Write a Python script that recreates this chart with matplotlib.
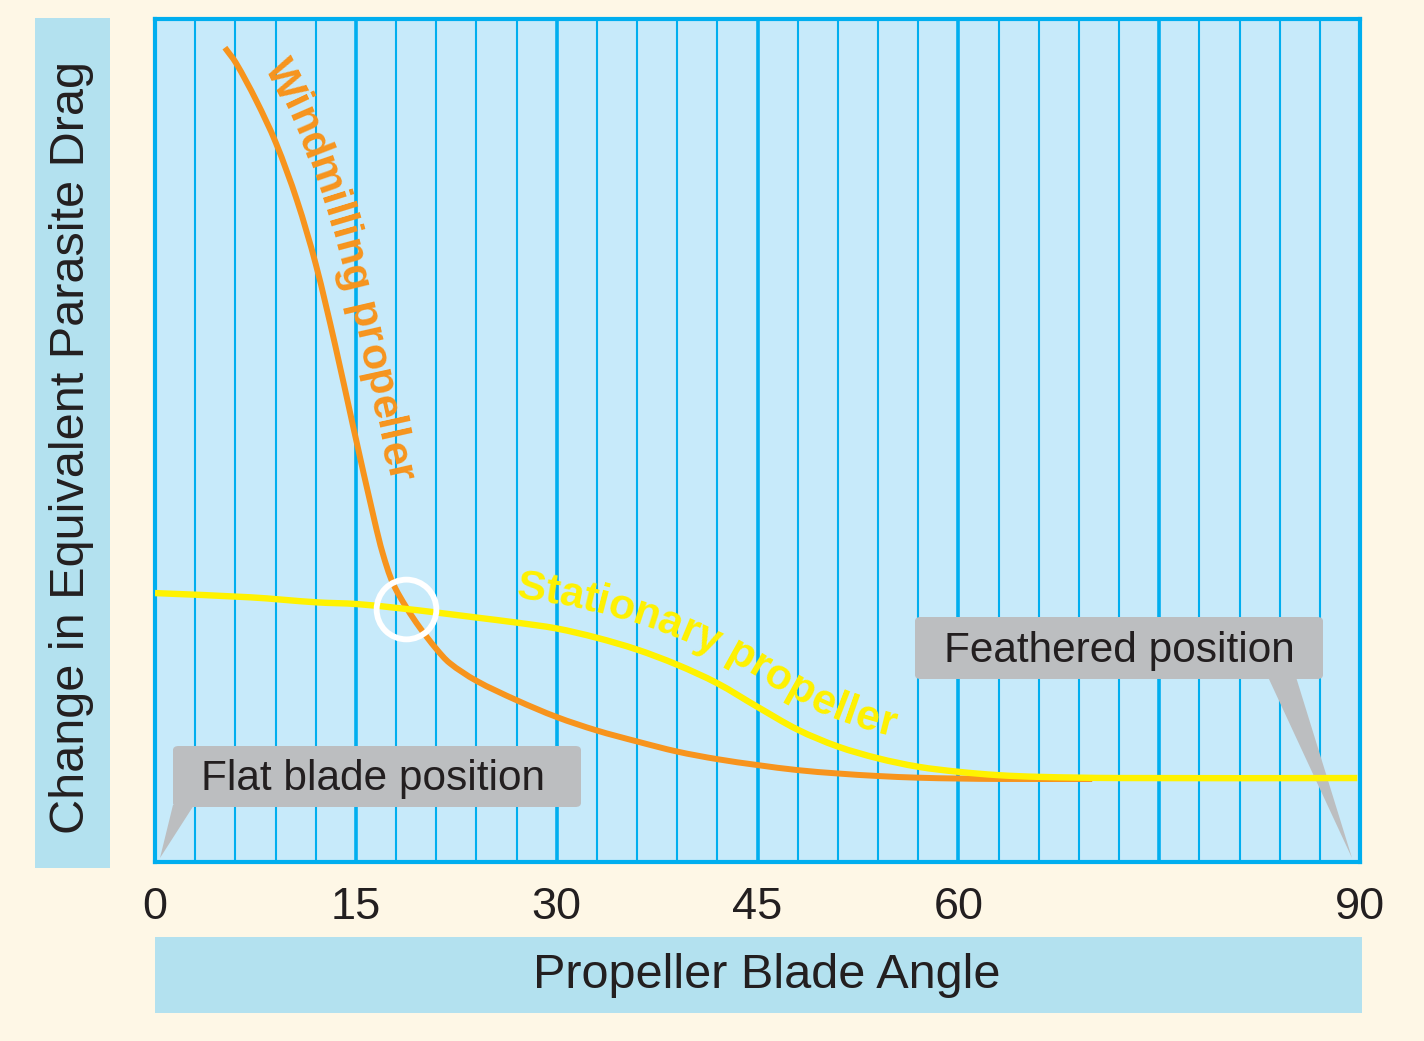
import matplotlib
matplotlib.use("Agg")
import numpy as np
import matplotlib.pyplot as plt
from matplotlib.patches import FancyBboxPatch, Polygon, Rectangle, PathPatch
from matplotlib.path import Path
from matplotlib.ticker import MultipleLocator
from matplotlib.font_manager import FontProperties, findfont, get_font

# ---------------- data ----------------
windmill_angle = [5.22, 6.04, 7.54, 9.03, 10.60, 12.01, 13.43, 14.78, 16.42, 17.01,
                  17.76, 18.81, 19.78, 21.0, 22.01, 24.0, 27.0, 30.0, 33.0, 36.0,
                  39.0, 42.0, 45.0, 48.0, 51.0, 54.0, 57.0, 60.0, 63.0, 70.0]
windmill_drag = [96.6, 94.8, 90.4, 85.3, 78.5, 70.9, 61.5, 51.8, 40.3, 36.6,
                 33.1, 30.1, 27.8, 25.3, 23.6, 21.5, 19.2, 17.2, 15.6, 14.3,
                 13.1, 12.2, 11.5, 10.9, 10.5, 10.2, 10.0, 9.9, 9.85, 9.85]

stationary_angle = [0.0, 7.09, 12.09, 15.07, 18.28, 21.0, 24.0, 27.0, 30.0, 33.0,
                    36.0, 39.0, 42.0, 45.0, 48.0, 51.0, 54.0, 57.0, 60.0, 63.0,
                    66.0, 71.8, 89.8]
stationary_drag = [31.9, 31.4, 30.8, 30.6, 30.1, 29.6, 29.0, 28.4, 27.7, 26.6,
                   25.2, 23.4, 21.2, 18.4, 15.7, 13.7, 12.3, 11.3, 10.7, 10.3,
                   10.1, 9.96, 9.96]

crossover = (18.77, 30.0)

tick_values = [0, 15, 30, 45, 60, 75, 90]
tick_labels = ["0", "15", "30", "45", "60", "", "90"]

x_title = "Propeller Blade Angle"
y_title = "Change in Equivalent Parasite Drag"
windmill_label = "Windmilling propeller"
stationary_label = "Stationary propeller"
flat_label = "Flat blade position"
feathered_label = "Feathered position"

# ---------------- style ----------------
W, H = 1424, 1041
BG = "#FEF7E6"
PLOT_BG = "#C7EAFA"
LABEL_BOX = "#B3E1EF"
GRID = "#00AEEF"
ORANGE = "#F7941D"
YELLOW = "#FFF200"
GRAY = "#BCBEC0"
TEXT = "#231F20"
FAMILY = ["Liberation Sans", "DejaVu Sans"]

plt.rcParams["font.family"] = FAMILY

fig = plt.figure(figsize=(W / 100, H / 100), dpi=100, facecolor=BG)


def fx(px):
    return px / W


def fy(py):
    return 1 - py / H


ax_l, ax_r, ax_t, ax_b = 155, 1360, 19, 862
ax = fig.add_axes([fx(ax_l), fy(ax_b), fx(ax_r) - fx(ax_l), fy(ax_t) - fy(ax_b)])
ax.set_facecolor(PLOT_BG)
ax.set_xlim(0, 90)
ax.set_ylim(0, 100)

# label background boxes
fig.add_artist(Rectangle((fx(35), fy(868)), fx(110) - fx(35), fy(18) - fy(868),
                         transform=fig.transFigure, facecolor=LABEL_BOX,
                         edgecolor="none", zorder=0))
fig.add_artist(Rectangle((fx(155), fy(1013)), fx(1362) - fx(155), fy(937) - fy(1013),
                         transform=fig.transFigure, facecolor=LABEL_BOX,
                         edgecolor="none", zorder=0))
fig.text(fx(72), fy(447), y_title, rotation=90, ha="center", va="center",
         fontsize=35, color=TEXT)
fig.text(fx(767), fy(976), x_title, ha="center", va="center",
         fontsize=35, color=TEXT)

# axes, grid
ax.set_xticks(tick_values)
ax.set_xticklabels(tick_labels, fontsize=32.5, color=TEXT)
ax.xaxis.set_minor_locator(MultipleLocator(3))
ax.set_yticks([])
ax.tick_params(axis="x", which="both", length=0, pad=18)
ax.grid(True, axis="x", which="major", color=GRID, linewidth=2.6, zorder=1)
ax.grid(True, axis="x", which="minor", color=GRID, linewidth=1.5, zorder=1)
ax.set_axisbelow(True)
for sp in ax.spines.values():
    sp.set_color(GRID)
    sp.set_linewidth(3.0)


# callouts (drawn in figure pixel space)
def callout(x0, y0, x1, y1, tri, label, tx, ty):
    box = FancyBboxPatch((fx(x0), fy(y1)), fx(x1) - fx(x0), fy(y0) - fy(y1),
                         boxstyle="round,pad=0,rounding_size=0.004",
                         transform=fig.transFigure, facecolor=GRAY,
                         edgecolor="none", zorder=2, clip_on=False)
    ax.add_patch(box)
    poly = Polygon([(fx(px), fy(py)) for px, py in tri], closed=True,
                   transform=fig.transFigure, facecolor=GRAY, edgecolor="none",
                   zorder=2, clip_on=False)
    ax.add_patch(poly)
    ax.text(fx(tx), fy(ty), label, transform=fig.transFigure, ha="center",
            va="center", fontsize=30.5, color=TEXT, zorder=3)


callout(173, 746, 581, 807, [(173, 805), (194, 805), (160, 858)],
        flat_label, 373, 779)
callout(915, 617, 1323, 679, [(1268, 677), (1296, 677), (1352, 858)],
        feathered_label, 1119, 651)


# ---------------- smooth curves through the read points ----------------
def smooth_display(xs, ys):
    P = ax.transData.transform(np.column_stack([xs, ys]))
    n = len(P)
    t = np.concatenate([[0.0], np.cumsum(np.hypot(*np.diff(P, axis=0).T))])
    m = np.zeros_like(P)
    m[0] = (P[1] - P[0]) / (t[1] - t[0])
    m[-1] = (P[-1] - P[-2]) / (t[-1] - t[-2])
    for i in range(1, n - 1):
        m[i] = (P[i + 1] - P[i - 1]) / (t[i + 1] - t[i - 1])
    verts = [P[0]]
    codes = [Path.MOVETO]
    for i in range(n - 1):
        dt = t[i + 1] - t[i]
        verts += [P[i] + m[i] * dt / 3, P[i + 1] - m[i + 1] * dt / 3, P[i + 1]]
        codes += [Path.CURVE4] * 3
    return np.array(verts), codes


def dense_display(verts):
    pts = [verts[0]]
    u = np.linspace(0, 1, 25)[1:, None]
    for k in range(1, len(verts), 3):
        p0, c1, c2, p1 = verts[k - 1], verts[k], verts[k + 1], verts[k + 2]
        seg = ((1 - u) ** 3) * p0 + 3 * ((1 - u) ** 2) * u * c1 \
            + 3 * (1 - u) * u ** 2 * c2 + u ** 3 * p1
        pts.extend(seg)
    return np.array(pts)


def draw_curve(xs, ys, color, lw, z):
    verts, codes = smooth_display(xs, ys)
    data_verts = ax.transData.inverted().transform(verts)
    patch = PathPatch(Path(data_verts, codes), facecolor="none", edgecolor=color,
                      linewidth=lw, capstyle="butt", joinstyle="round", zorder=z)
    ax.add_patch(patch)
    return dense_display(verts)


orange_pts = draw_curve(windmill_angle, windmill_drag, ORANGE, 4.3, 4)
yellow_pts = draw_curve(stationary_angle, stationary_drag, YELLOW, 4.6, 5)

ax.plot([crossover[0]], [crossover[1]], marker="o", markersize=43,
        markerfacecolor="none", markeredgecolor="white", markeredgewidth=4.2,
        zorder=6)


# ---------------- curved labels following the curves ----------------
def text_along(pts, text, first_center_px, offset, size, color, smooth=14):
    prop = FontProperties(family=FAMILY, weight="bold", size=size)
    font = get_font(findfont(prop))
    font.set_size(size, fig.dpi)
    adv = np.array([font.load_char(ord(c)).linearHoriAdvance / 65536.0 for c in text])
    centers = np.cumsum(adv) - adv / 2
    d = np.diff(pts, axis=0)
    seglen = np.hypot(d[:, 0], d[:, 1])
    tang = d / seglen[:, None]
    normal = np.column_stack([-tang[:, 1], tang[:, 0]])
    nrm = np.vstack([normal[:1], (normal[:-1] + normal[1:]) / 2, normal[-1:]])
    nrm /= np.hypot(nrm[:, 0], nrm[:, 1])[:, None]
    off = pts + offset * nrm
    s = np.concatenate([[0.0], np.cumsum(np.hypot(*np.diff(off, axis=0).T))])
    target = np.array([first_center_px[0], H - first_center_px[1]])
    s0 = s[np.argmin(np.hypot(*(off - target).T))]

    def at(sv):
        return np.array([np.interp(sv, s, off[:, 0]), np.interp(sv, s, off[:, 1])])

    inv = ax.transData.inverted()
    for c, cc in zip(text, centers):
        if c == " ":
            continue
        sv = s0 + cc - centers[0]
        p = at(sv)
        a = at(sv + smooth) - at(sv - smooth)
        ang = np.degrees(np.arctan2(a[1], a[0]))
        xd, yd = inv.transform(p)
        ax.text(xd, yd, c, rotation=ang, rotation_mode="anchor", ha="center",
                va="center", fontsize=size, fontweight="bold", color=color,
                family=FAMILY, zorder=6)


text_along(orange_pts, windmill_label, (287, 78), 33, 31, ORANGE)
text_along(yellow_pts, stationary_label, (532, 588), 35, 31, YELLOW)

ax.set_xlim(0, 90)
ax.set_ylim(0, 100)

fig.savefig("out.png", dpi=100, facecolor=BG)
